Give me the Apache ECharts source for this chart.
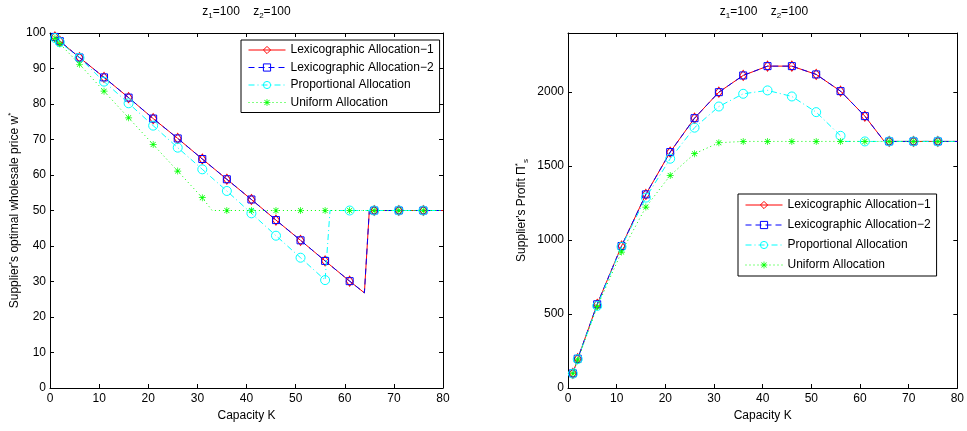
<!DOCTYPE html>
<html><head><meta charset="utf-8">
<script src="https://cdn.jsdelivr.net/npm/echarts@6/dist/echarts.min.js"></script>
<style>html,body{margin:0;padding:0;background:#fff}#c{width:967px;height:431px}</style>
</head><body><div id="c"></div>
<script>
const seriesNames = ['Lexicographic Allocation\u22121', 'Lexicographic Allocation\u22122', 'Proportional Allocation', 'Uniform Allocation'];
const markerK = [1, 2, 6, 11, 16, 21, 26, 31, 36, 41, 46, 51, 56, 61, 66, 71, 76];
const xTicks = [0, 10, 20, 30, 40, 50, 60, 70, 80];
const priceTicks = [0, 10, 20, 30, 40, 50, 60, 70, 80, 90, 100];
const profitTicks = [0, 500, 1000, 1500, 2000];

// Left panel: supplier's optimal wholesale price w*
const priceLex1K = [1, 2, 6, 11, 16, 21, 26, 31, 36, 41, 46, 51, 56, 61, 64, 65, 66, 71, 76, 80];
const priceLex1 = [98.9, 97.7, 93.1, 87.5, 81.8, 75.9, 70.3, 64.5, 58.8, 53.1, 47.3, 41.6, 35.8, 30.1, 26.8, 50, 50, 50, 50, 50];
const priceLex2K = [1, 2, 6, 11, 16, 21, 26, 31, 36, 41, 46, 51, 56, 61, 64, 65, 66, 71, 76, 80];
const priceLex2 = [98.9, 97.7, 93.1, 87.5, 81.8, 75.9, 70.3, 64.5, 58.8, 53.1, 47.3, 41.6, 35.8, 30.1, 26.8, 50, 50, 50, 50, 50];
const pricePropK = [1, 2, 6, 11, 16, 21, 26, 31, 36, 41, 46, 51, 56, 57, 61, 66, 71, 76, 80];
const priceProp = [98.6, 97.4, 93.0, 86.3, 80.2, 73.9, 67.7, 61.6, 55.5, 49.2, 42.9, 36.7, 30.4, 50, 50, 50, 50, 50, 50];
const priceUnifK = [1, 2, 6, 11, 16, 21, 26, 31, 33, 36, 41, 46, 51, 56, 61, 66, 71, 76, 80];
const priceUnif = [98.5, 97.0, 91.2, 83.6, 76.1, 68.6, 61.1, 53.6, 50, 50, 50, 50, 50, 50, 50, 50, 50, 50, 50];

// Right panel: supplier's profit
const profitLex1K = [1, 2, 6, 11, 16, 21, 26, 31, 36, 41, 46, 51, 56, 61, 65, 66, 71, 76, 80];
const profitLex1 = [99, 198, 566, 960, 1309, 1595, 1824, 2000, 2113, 2176, 2176, 2120, 2007, 1838, 1667, 1667, 1667, 1667, 1667];
const profitLex2K = [1, 2, 6, 11, 16, 21, 26, 31, 36, 41, 46, 51, 56, 61, 65, 66, 71, 76, 80];
const profitLex2 = [99, 198, 566, 960, 1309, 1595, 1824, 2000, 2113, 2176, 2176, 2120, 2007, 1838, 1667, 1667, 1667, 1667, 1667];
const profitPropK = [1, 2, 6, 11, 16, 21, 26, 31, 36, 41, 46, 51, 56, 57, 61, 66, 71, 76, 80];
const profitProp = [97, 195, 555, 955, 1287, 1550, 1760, 1903, 1989, 2012, 1971, 1865, 1705, 1667, 1667, 1667, 1667, 1667, 1667];
const profitUnifK = [1, 2, 6, 11, 16, 21, 26, 31, 36, 41, 46, 51, 56, 61, 66, 71, 76, 80];
const profitUnif = [97, 190, 550, 919, 1223, 1437, 1584, 1658, 1667, 1667, 1667, 1667, 1667, 1667, 1667, 1667, 1667, 1667];

const FONT = 'Liberation Sans, Arial, Helvetica, sans-serif';
const ASTERISK = 'path://M4.5,0L5.5,0L5.5,10L4.5,10Z M0,4.5L10,4.5L10,5.5L0,5.5Z M1.1,1.8L1.8,1.1L8.9,8.2L8.2,8.9Z M8.2,1.1L8.9,1.8L1.8,8.9L1.1,8.2Z';

const styles = [
  {color: '#ff0000', type: 'solid', symbol: 'diamond', size: [7, 10], hollow: true},
  {color: '#0000ff', type: [6, 4], symbol: 'rect', size: 7, hollow: true},
  {color: '#00ffff', type: [6, 3, 1, 3], symbol: 'circle', size: 9, hollow: true},
  {color: '#00ff00', type: [1, 3], symbol: ASTERISK, size: 7, hollow: false}
];

function mkData(ks, vs) {
  return ks.map((k, i) => markerK.indexOf(k) >= 0 ? [k, vs[i]] : {value: [k, vs[i]], symbol: 'none'});
}
function mkSeries(idx, grid, ks, vs) {
  const s = styles[idx];
  return {
    name: seriesNames[idx], type: 'line', xAxisIndex: grid * 2, yAxisIndex: grid * 2,
    data: mkData(ks, vs), symbol: s.symbol, symbolSize: s.size, showSymbol: true,
    lineStyle: {color: s.color, width: 1, type: s.type},
    itemStyle: s.hollow ? {color: 'rgba(0,0,0,0)', borderColor: s.color, borderWidth: 1} : {color: s.color, borderWidth: 0},
    emphasis: {disabled: true}, animation: false, z: 2 + idx
  };
}
function axisBase(show) {
  return {
    axisLine: {show: true, onZero: false, lineStyle: {color: '#000', width: 1}},
    axisTick: {show: true, inside: true, length: 4, lineStyle: {color: '#000'}},
    splitLine: {show: false},
    axisLabel: {show: show, color: '#000', fontSize: 12, fontFamily: FONT, margin: 5, formatter: v => String(v)}
  };
}
function xAxes(grid) {
  const common = {type: 'value', gridIndex: grid, min: xTicks[0], max: xTicks[xTicks.length - 1], interval: xTicks[1] - xTicks[0]};
  return [
    Object.assign({}, common, axisBase(true), {position: 'bottom', name: 'Capacity K', nameLocation: 'middle', nameGap: 22,
      nameTextStyle: {color: '#000', fontSize: 12, fontFamily: FONT}}),
    Object.assign({}, common, axisBase(false), {position: 'top'})
  ];
}
function yAxes(grid, ticks, max, name, rich, gap) {
  const common = {type: 'value', gridIndex: grid, min: ticks[0], max: max, interval: ticks[1] - ticks[0]};
  const left = Object.assign({}, common, axisBase(true), {position: 'left', name: name, nameLocation: 'middle', nameGap: gap, nameRotate: 90,
    nameTextStyle: {color: '#000', fontSize: 12, fontFamily: FONT, rich: rich}});
  left.axisLabel.showMaxLabel = max === ticks[ticks.length - 1];
  left.axisLabel.margin = 4;
  return [left, Object.assign({}, common, axisBase(false), {position: 'right'})];
}
const supRich = {sup: {fontSize: 8, fontFamily: FONT, color: '#000', padding: [0, 0, 8, 0]}, sub: {fontSize: 8, fontFamily: FONT, color: '#000', padding: [7, 0, 0, 0]}};

function legend(left, top, gap, pad) {
  return {
    left: left, top: top, orient: 'vertical', itemWidth: 37, itemHeight: 9, itemGap: gap, padding: pad,
    borderColor: '#000', borderWidth: 1, backgroundColor: '#fff', selectedMode: false, z: 10,
    lineStyle: {width: 1}, itemStyle: {borderWidth: 1},
    textStyle: {color: '#000', fontSize: 12, fontFamily: FONT}, data: seriesNames
  };
}
function titleText(x) {
  return {type: 'text', x: x, y: 12, z: 10, style: {text: 'z{sub|1}=100    z{sub|2}=100', fontSize: 12, fontFamily: FONT, fill: '#000',
    align: 'center', verticalAlign: 'middle', rich: {sub: {fontSize: 8, fontFamily: FONT, fill: '#000', padding: [7, 0, 0, 0]}}}};
}

const option = {
  backgroundColor: '#fff', animation: false,
  grid: [
    {left: 50, right: 524, top: 33, bottom: 43},
    {left: 568, right: 6, top: 33, bottom: 43}
  ],
  xAxis: xAxes(0).concat(xAxes(1)),
  yAxis: yAxes(0, priceTicks, 100, "Supplier's optimal wholesale price w{sup|*}", supRich, 27)
    .concat(yAxes(1, profitTicks, 2400, "Supplier's Profit \u03A0{sup|*}{sub|s}", supRich, 38)),
  legend: [legend(241, 40, 5.5, [4, 6, 4, 7]), legend(738, 194, 8, [5, 6, 5, 7])],
  graphic: [titleText(246.5), titleText(764)],
  series: [
    mkSeries(0, 0, priceLex1K, priceLex1), mkSeries(1, 0, priceLex2K, priceLex2),
    mkSeries(2, 0, pricePropK, priceProp), mkSeries(3, 0, priceUnifK, priceUnif),
    mkSeries(0, 1, profitLex1K, profitLex1), mkSeries(1, 1, profitLex2K, profitLex2),
    mkSeries(2, 1, profitPropK, profitProp), mkSeries(3, 1, profitUnifK, profitUnif)
  ]
};
const chart = echarts.init(document.getElementById('c'), null, {renderer: 'canvas'});
chart.setOption(option);
</script>
</body></html>
